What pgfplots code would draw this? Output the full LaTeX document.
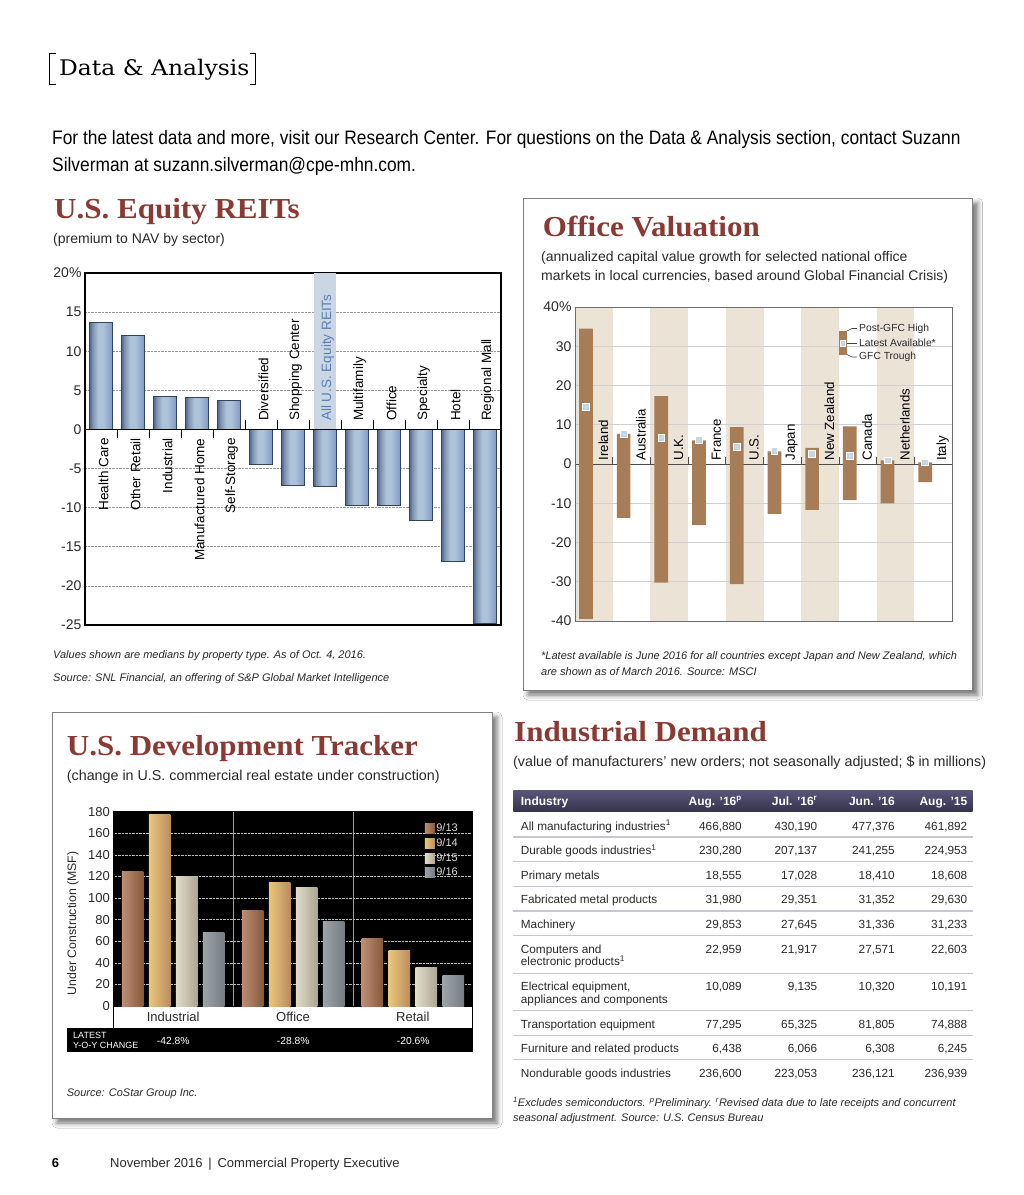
\documentclass[border=0pt]{standalone}
\usepackage{pgfplots}
\pgfplotsset{compat=1.18}
\usepackage{fontspec}
\setmainfont{Liberation Sans}
\newfontfamily\titlefont[FakeStretch=1.07]{Liberation Serif}
\newfontfamily\headserif[FakeStretch=1.09]{DejaVu Serif}
\newfontfamily\condfont[FakeStretch=0.89]{Liberation Sans}
\usetikzlibrary{shadows.blur}

\newcommand\fsz[1]{\fontsize{#1}{#1}\selectfont}

\definecolor{titlered}{HTML}{8B3A33}
\definecolor{reitD}{HTML}{4F6889}
\definecolor{reitM}{HTML}{AEC2DC}
\definecolor{reitR}{HTML}{8199BB}
\definecolor{reitline}{HTML}{34435C}
\definecolor{hlband}{HTML}{CAD6E4}
\definecolor{hltext}{HTML}{5B7EB6}
\definecolor{band}{HTML}{ECE3D7}
\definecolor{brownbar}{HTML}{A67D56}
\definecolor{sqfill}{HTML}{C6D6E3}
\definecolor{ovgrid}{HTML}{D0D0D0}
\definecolor{tA1}{HTML}{BD8D75}
\definecolor{tA2}{HTML}{87593B}
\definecolor{tB1}{HTML}{EBC77C}
\definecolor{tB2}{HTML}{BA8C5E}
\definecolor{tC1}{HTML}{E2DDCA}
\definecolor{tC2}{HTML}{ACA593}
\definecolor{tD1}{HTML}{9DA4A9}
\definecolor{tD2}{HTML}{767C81}
\definecolor{thTop}{HTML}{58557A}
\definecolor{thBot}{HTML}{36334F}
\definecolor{tline}{HTML}{C6C4D9}
\definecolor{txt}{HTML}{2A2A2A}

% the path spans 25bp..75bp of the shading
\pgfdeclarehorizontalshading{reitshade}{100bp}{color(0bp)=(reitD); color(25bp)=(reitD); color(32bp)=(reitD!50!reitM); color(44bp)=(reitM); color(54bp)=(reitM); color(75bp)=(reitR); color(100bp)=(reitR)}

\pgfplotsset{
  sqlegend/.style={legend image code/.code={\fill[##1] (0pt,-5pt) rectangle (10pt,5pt);}},
  reitbar/.style={draw=reitline, line width=0.6pt, shading=reitshade, shading angle=0, bar shift=0pt},
  s13/.style={draw=none, left color=tA1, right color=tA2, bar shift=-40.5pt, sqlegend},
  s14/.style={draw=none, left color=tB1, right color=tB2, bar shift=-13.5pt, sqlegend},
  s15/.style={draw=none, left color=tC1, right color=tC2, bar shift=13.5pt, sqlegend},
  s16/.style={draw=none, left color=tD1, right color=tD2, bar shift=40.5pt, sqlegend},
}

\newcommand\trow[6]{%
  \node[anchor=base west] at (520.7,#1) {#2};
  \node[anchor=base east] at (742,#1) {#3};
  \node[anchor=base east] at (817.5,#1) {#4};
  \node[anchor=base east] at (895,#1) {#5};
  \node[anchor=base east] at (967.5,#1) {#6};}

\begin{document}
\begin{tikzpicture}
\begin{scope}[x=1pt,y=-1pt]
\fill[white] (0,0) rectangle (1024,1195);
\path[use as bounding box] (0,0) rectangle (1024,1195);
\draw[gray, line width=0.8pt, fill=white, blur shadow={shadow xshift=5pt, shadow yshift=-5pt, shadow blur radius=5pt, shadow opacity=55}] (523,198) rectangle (972.7,690);
\draw[gray, line width=0.8pt, fill=white, blur shadow={shadow xshift=5pt, shadow yshift=-5pt, shadow blur radius=5pt, shadow opacity=55}] (52,712) rectangle (492,1118);
\end{scope}

% ---------------- U.S. Equity REITs
\begin{axis}[
  at={(85pt,-625pt)}, anchor=south west, scale only axis,
  width=416pt, height=352pt,
  xmin=-0.5, xmax=12.5, ymin=-25, ymax=20,
  xtick=\empty,
  ytick={-25,-20,-15,-10,-5,0,5,10,15,20},
  yticklabels={-25,-20,-15,-10,-5,0,5,10,15,20\%},
  yticklabel style={font=\fsz{14}, text=txt},
  major tick length=0pt,
  axis line style={black, line width=1.1pt},
  ymajorgrids, grid style={densely dotted, gray!80, line width=0.6pt},
  ybar, bar width=23pt,
  clip=false,
]
\fill[hlband] (axis cs:6.65,0) rectangle (axis cs:7.35,20);
% premium to NAV, one bar per sector
\addplot[reitbar] coordinates {(0,13.7)};
\addplot[reitbar] coordinates {(1,12.0)};
\addplot[reitbar] coordinates {(2,4.2)};
\addplot[reitbar] coordinates {(3,4.1)};
\addplot[reitbar] coordinates {(4,3.7)};
\addplot[reitbar] coordinates {(5,-4.5)};
\addplot[reitbar] coordinates {(6,-7.1)};
\addplot[reitbar] coordinates {(7,-7.3)};
\addplot[reitbar] coordinates {(8,-9.7)};
\addplot[reitbar] coordinates {(9,-9.7)};
\addplot[reitbar] coordinates {(10,-11.6)};
\addplot[reitbar] coordinates {(11,-16.8)};
\addplot[reitbar] coordinates {(12,-24.8)};
\draw[black, line width=1.1pt] (axis cs:-0.5,0) -- (axis cs:12.5,0);
\draw[black, line width=0.8pt]
  (axis cs:0.5,0) -- ++(0pt,-8.5pt) (axis cs:1.5,0) -- ++(0pt,-8.5pt)
  (axis cs:2.5,0) -- ++(0pt,-8.5pt) (axis cs:3.5,0) -- ++(0pt,-8.5pt)
  (axis cs:4.5,0) -- ++(0pt,9.5pt) (axis cs:5.5,0) -- ++(0pt,9.5pt)
  (axis cs:6.5,0) -- ++(0pt,9.5pt) (axis cs:7.5,0) -- ++(0pt,9.5pt)
  (axis cs:8.5,0) -- ++(0pt,9.5pt) (axis cs:9.5,0) -- ++(0pt,9.5pt)
  (axis cs:10.5,0) -- ++(0pt,9.5pt) (axis cs:11.5,0) -- ++(0pt,9.5pt);
\begin{scope}[every node/.style={rotate=90, font=\fsz{13.5}, text=black}]
\node[anchor=east] at (axis cs:0.08,-0.7) {Health Care};
\node[anchor=east] at (axis cs:1.08,-0.7) {Other Retail};
\node[anchor=east] at (axis cs:2.08,-0.7) {Industrial};
\node[anchor=east] at (axis cs:3.08,-0.7) {Manufactured Home};
\node[anchor=east] at (axis cs:4.08,-0.7) {Self-Storage};
\node[anchor=west] at (axis cs:5.08,0.66) {Diversified};
\node[anchor=west] at (axis cs:6.08,0.66) {Shopping Center};
\node[anchor=west, text=hltext] at (axis cs:7.08,0.66) {All U.S. Equity REITs};
\node[anchor=west] at (axis cs:8.08,0.66) {Multifamily};
\node[anchor=west] at (axis cs:9.08,0.66) {Office};
\node[anchor=west] at (axis cs:10.08,0.66) {Specialty};
\node[anchor=west] at (axis cs:11.08,0.66) {Hotel};
\node[anchor=west] at (axis cs:12.08,0.66) {Regional Mall};
\end{scope}
\end{axis}

% ---------------- Office Valuation
\begin{axis}[
  at={(575pt,-621pt)}, anchor=south west, scale only axis,
  width=377pt, height=314pt,
  xmin=0, xmax=10, ymin=-40, ymax=40,
  xtick=\empty,
  ytick={-40,-30,-20,-10,0,10,20,30,40},
  yticklabels={-40,-30,-20,-10,0,10,20,30,40\%},
  yticklabel style={font=\fsz{14}, text=txt},
  major tick length=0pt,
  axis line style={gray!85!black, line width=0.9pt},
  axis on top, clip=false,
]
\fill[band] (axis cs:0,-40) rectangle (axis cs:1,40);
\fill[band] (axis cs:2,-40) rectangle (axis cs:3,40);
\fill[band] (axis cs:4,-40) rectangle (axis cs:5,40);
\fill[band] (axis cs:6,-40) rectangle (axis cs:7,40);
\fill[band] (axis cs:8,-40) rectangle (axis cs:9,40);
\draw[ovgrid, line width=0.7pt]
  (axis cs:0,-30) -- (axis cs:10,-30) (axis cs:0,-20) -- (axis cs:10,-20)
  (axis cs:0,-10) -- (axis cs:10,-10) (axis cs:0,10) -- (axis cs:10,10)
  (axis cs:0,20) -- (axis cs:10,20) (axis cs:0,30) -- (axis cs:10,30);
\draw[gray!60!black, line width=0.9pt] (axis cs:0,0) -- (axis cs:10,0);
\draw[gray!60!black, line width=0.8pt]
  (axis cs:1,0) -- ++(0pt,7pt) (axis cs:2,0) -- ++(0pt,7pt) (axis cs:3,0) -- ++(0pt,7pt)
  (axis cs:4,0) -- ++(0pt,7pt) (axis cs:5,0) -- ++(0pt,7pt) (axis cs:6,0) -- ++(0pt,7pt)
  (axis cs:7,0) -- ++(0pt,7pt) (axis cs:8,0) -- ++(0pt,7pt) (axis cs:9,0) -- ++(0pt,7pt);
% post-GFC high
\addplot[ybar, bar width=13.7pt, bar shift=0pt, fill=brownbar, draw=none]
  coordinates {(0.29,34.5) (1.29,7.7) (2.29,17.3) (3.29,6.0) (4.29,9.4)
               (5.29,3.2) (6.29,4.1) (7.29,9.6) (8.29,0.9) (9.29,0.4)};
% GFC trough
\addplot[ybar, bar width=13.7pt, bar shift=0pt, fill=brownbar, draw=none]
  coordinates {(0.29,-39.5) (1.29,-13.7) (2.29,-30.2) (3.29,-15.6) (4.29,-30.6)
               (5.29,-12.7) (6.29,-11.7) (7.29,-9.2) (8.29,-10.0) (9.29,-4.6)};
% latest available
\addplot[only marks, mark=square*, mark size=3.4pt,
         mark options={fill=sqfill, draw=white, line width=0.8pt}]
  coordinates {(0.29,14.5) (1.29,7.6) (2.29,6.6) (3.29,6.1) (4.29,4.3)
               (5.29,3.4) (6.29,2.6) (7.29,2.0) (8.29,0.9) (9.29,0.4)};
\begin{scope}[every node/.style={rotate=90, anchor=west, font=\fsz{13.3}, text=black}]
\node at (axis cs:0.75,0) {Ireland};
\node at (axis cs:1.75,0) {Australia};
\node at (axis cs:2.75,0) {U.K.};
\node at (axis cs:3.75,0) {France};
\node at (axis cs:4.75,0) {U.S.};
\node at (axis cs:5.75,0) {Japan};
\node at (axis cs:6.75,0) {New Zealand};
\node at (axis cs:7.75,0) {Canada};
\node at (axis cs:8.75,0) {Netherlands};
\node at (axis cs:9.75,0) {Italy};
\end{scope}
\end{axis}

% ---------------- U.S. Development Tracker
\begin{axis}[
  at={(113.3pt,-1006pt)}, anchor=south west, scale only axis,
  width=359.4pt, height=194.3pt,
  xmin=0, xmax=3, ymin=0, ymax=180,
  xtick=\empty,
  ytick={0,20,40,60,80,100,120,140,160,180},
  yticklabels={0,20,40,60,80,100,120,140,160,180},
  yticklabel style={font=\fsz{13}, text=txt},
  major tick length=0pt,
  axis background/.style={fill=black},
  axis line style={black, line width=0.8pt},
  ymajorgrids, grid style={densely dotted, gray!55, line width=0.6pt},
  ybar, bar width=21.5pt,
  ylabel={Under Construction (MSF)},
  ylabel style={font=\fsz{12.3}, text=txt, at={(axis description cs:-0.112,0.426)}, anchor=center},
  legend style={at={(0.858,0.958)}, anchor=north west, draw=none, fill=none,
    font=\fsz{11}, text=white!85!black, row sep=1.8pt,
    nodes={inner sep=1.5pt, text height=8pt, text depth=2pt}},
  legend cell align=left,
  clip=false,
]
\draw[gray!75, line width=0.8pt] (axis cs:1,0) -- (axis cs:1,180) (axis cs:2,0) -- (axis cs:2,180);
% Industrial
\addplot[s13] coordinates {(0.5,124.7)};
\addplot[s14] coordinates {(0.5,177.8)};
\addplot[s15] coordinates {(0.5,119.8)};
\addplot[s16] coordinates {(0.5,68.5)};
\legend{9/13,9/14,9/15,9/16}
% Office
\addplot[s13, forget plot] coordinates {(1.5,88.9)};
\addplot[s14, forget plot] coordinates {(1.5,114.5)};
\addplot[s15, forget plot] coordinates {(1.5,109.9)};
\addplot[s16, forget plot] coordinates {(1.5,78.4)};
% Retail
\addplot[s13, forget plot] coordinates {(2.5,62.1)};
\addplot[s14, forget plot] coordinates {(2.5,51.6)};
\addplot[s15, forget plot] coordinates {(2.5,35.8)};
\addplot[s16, forget plot] coordinates {(2.5,28.4)};
\node[font=\fsz{13}, text=txt] at (axis cs:0.5,-9.9) {Industrial};
\node[font=\fsz{13}, text=txt] at (axis cs:1.5,-9.9) {Office};
\node[font=\fsz{13}, text=txt] at (axis cs:2.5,-9.9) {Retail};
\end{axis}

\begin{scope}[x=1pt,y=-1pt, every node/.style={inner sep=0pt}]
% header
\draw[black, line width=1.1pt] (55.5,53.3) -- (49.5,53.3) -- (49.5,84.3) -- (55.5,84.3);
\draw[black, line width=1.1pt] (249.5,53.3) -- (255.3,53.3) -- (255.3,84.3) -- (249.5,84.3);
\node[anchor=base west, font=\headserif\fsz{21.5}] at (59,75) {Data \& Analysis};
\node[anchor=base west, font=\condfont\fsz{19.5}] at (52,144) {For the latest data and more, visit our Research Center. For questions on the Data \& Analysis section, contact Suzann};
\node[anchor=base west, font=\condfont\fsz{19.5}] at (52,171.5) {Silverman at suzann.silverman@cpe-mhn.com.};

% REITs text
\node[anchor=base west, font=\titlefont\bfseries\fsz{29}, text=titlered] at (54,218.3) {U.S. Equity REITs};
\node[anchor=base west, font=\fsz{14}, text=txt] at (53,243) {(premium to NAV by sector)};
\node[anchor=base west, font=\itshape\fsz{11}, text=txt] at (53,658.3) {Values shown are medians by property type. As of Oct. 4, 2016.};
\node[anchor=base west, font=\itshape\fsz{11}, text=txt] at (53,681.7) {Source: SNL Financial, an offering of S\&P Global Market Intelligence};

% Office text
\node[anchor=base west, font=\titlefont\bfseries\fsz{29}, text=titlered] at (542.7,236.7) {Office Valuation};
\node[anchor=base west, font=\fsz{14}, text=txt] at (541,261.7) {(annualized capital value growth for selected national office};
\node[anchor=base west, font=\fsz{14}, text=txt] at (541,280.7) {markets in local currencies, based around Global Financial Crisis)};
\node[anchor=base west, font=\itshape\fsz{11}, text=txt] at (541,659) {*Latest available is June 2016 for all countries except Japan and New Zealand, which};
\node[anchor=base west, font=\itshape\fsz{11}, text=txt] at (541,675) {are shown as of March 2016. Source: MSCI};
% office legend
\fill[brownbar] (838.5,331) rectangle (847,354.5);
\filldraw[fill=sqfill, draw=white, line width=0.6pt] (840,340.3) rectangle (845.5,345.8);
\draw[gray!50!black, line width=0.6pt] (847,331) -- (852,328.5) -- (857,328.5);
\draw[gray!50!black, line width=0.6pt] (847,343) -- (857,343);
\draw[gray!50!black, line width=0.6pt] (847,354.5) -- (852,357) -- (857,357);
\node[anchor=west, font=\fsz{10.3}, text=txt] at (859,329) {Post-GFC High};
\node[anchor=west, font=\fsz{10.3}, text=txt] at (859,343) {Latest Available*};
\node[anchor=west, font=\fsz{10.3}, text=txt] at (859,357) {GFC Trough};

% Development tracker text
\node[anchor=base west, font=\titlefont\bfseries\fsz{29}, text=titlered] at (66.7,755) {U.S. Development Tracker};
\node[anchor=base west, font=\fsz{14.3}, text=txt] at (66.7,780) {(change in U.S. commercial real estate under construction)};
\draw[black, line width=0.9pt] (113.3,1006) -- (113.3,1028) (472.7,1006) -- (472.7,1028);
\fill[black] (66.7,1028) rectangle (472.7,1052);
\node[anchor=base west, font=\fsz{9}, text=white] at (73,1038.7) {LATEST};
\node[anchor=base west, font=\fsz{9}, text=white] at (73,1048.7) {Y-O-Y CHANGE};
\node[font=\fsz{10.3}, text=white] at (173.3,1040.5) {-42.8\%};
\node[font=\fsz{10.3}, text=white] at (293.3,1040.5) {-28.8\%};
\node[font=\fsz{10.3}, text=white] at (413.3,1040.5) {-20.6\%};
\node[anchor=base west, font=\itshape\fsz{11}, text=txt] at (66.7,1096) {Source: CoStar Group Inc.};

% Industrial demand table
\node[anchor=base west, font=\titlefont\bfseries\fsz{29}, text=titlered] at (514,741.7) {Industrial Demand};
\node[anchor=base west, font=\fsz{14.3}, text=txt] at (513,766.7) {(value of manufacturers’ new orders; not seasonally adjusted; \$ in millions)};
\shade[top color=thTop, bottom color=thBot] (513.3,790) rectangle (972.7,811.7);
\begin{scope}[every node/.append style={font=\bfseries\fsz{12}, text=white}]
\trow{805}{Industry}{Aug. ’16\textsuperscript{p}}{Jul. ’16\textsuperscript{r}}{Jun. ’16}{Aug. ’15}
\end{scope}
\draw[tline, line width=1.4pt]
  (513.3,837) -- (972.7,837) (513.3,861.7) -- (972.7,861.7)
  (513.3,886.3) -- (972.7,886.3) (513.3,911) -- (972.7,911)
  (513.3,935.7) -- (972.7,935.7) (513.3,973.3) -- (972.7,973.3)
  (513.3,1010.7) -- (972.7,1010.7) (513.3,1035.3) -- (972.7,1035.3)
  (513.3,1059.7) -- (972.7,1059.7);
\begin{scope}[every node/.append style={font=\fsz{11.8}, text=txt}]
\trow{830}{All manufacturing industries\textsuperscript{1}}{466,880}{430,190}{477,376}{461,892}
\trow{854.5}{Durable goods industries\textsuperscript{1}}{230,280}{207,137}{241,255}{224,953}
\trow{879}{Primary metals}{18,555}{17,028}{18,410}{18,608}
\trow{903.5}{Fabricated metal products}{31,980}{29,351}{31,352}{29,630}
\trow{928}{Machinery}{29,853}{27,645}{31,336}{31,233}
\trow{953}{Computers and}{22,959}{21,917}{27,571}{22,603}
\node[anchor=base west] at (520.7,965.5) {electronic products\textsuperscript{1}};
\trow{990.5}{Electrical equipment,}{10,089}{9,135}{10,320}{10,191}
\node[anchor=base west] at (520.7,1003) {appliances and components};
\trow{1028}{Transportation equipment}{77,295}{65,325}{81,805}{74,888}
\trow{1052.5}{Furniture and related products}{6,438}{6,066}{6,308}{6,245}
\trow{1077.5}{Nondurable goods industries}{236,600}{223,053}{236,121}{236,939}
\end{scope}
\node[anchor=base west, font=\itshape\fsz{11}, text=txt] at (513,1106.7) {\textsuperscript{1}Excludes semiconductors. \textsuperscript{p}Preliminary. \textsuperscript{r}Revised data due to late receipts and concurrent};
\node[anchor=base west, font=\itshape\fsz{11}, text=txt] at (513,1121.7) {seasonal adjustment. Source: U.S. Census Bureau};

% footer
\node[anchor=base west, font=\bfseries\fsz{13}] at (51.7,1167.3) {6};
\node[anchor=base west, font=\fsz{13}, text=txt] at (110,1167.3) {November 2016 \,|\, Commercial Property Executive};
\end{scope}
\end{tikzpicture}
\end{document}
